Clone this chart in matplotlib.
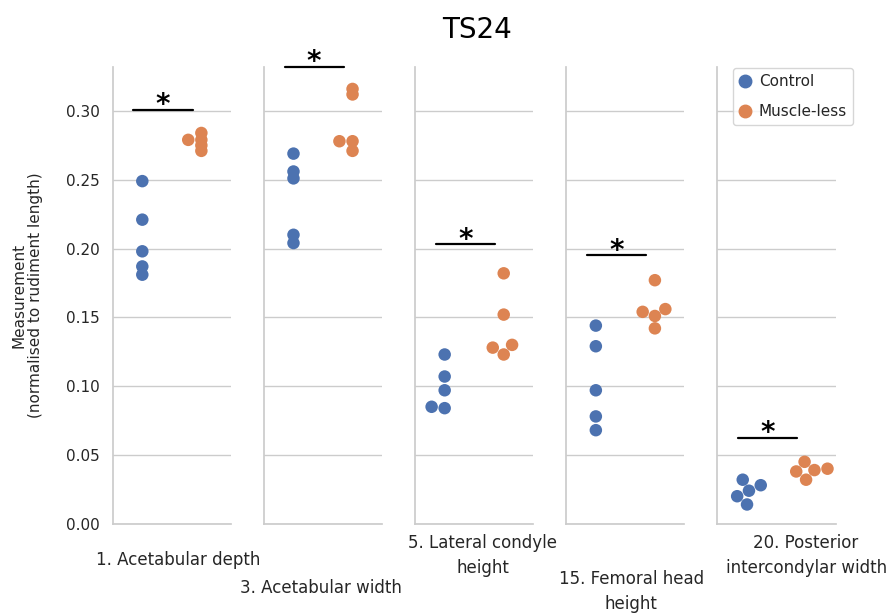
import matplotlib
matplotlib.use("Agg")
import matplotlib.pyplot as plt
from matplotlib.lines import Line2D
import numpy as np
import pandas as pd
import seaborn as sns

groups = ["Control", "Muscle-less"]
measures = [
    "1. Acetabular depth",
    "3. Acetabular width",
    "5. Lateral condyle\nheight",
    "15. Femoral head\nheight",
    "20. Posterior\nintercondylar width",
]
control = [
    [0.249, 0.221, 0.198, 0.187, 0.181],
    [0.269, 0.256, 0.251, 0.210, 0.204],
    [0.123, 0.107, 0.097, 0.085, 0.084],
    [0.144, 0.129, 0.097, 0.078, 0.068],
    [0.032, 0.028, 0.024, 0.020, 0.014],
]
muscleless = [
    [0.284, 0.279, 0.279, 0.275, 0.271],
    [0.316, 0.312, 0.278, 0.278, 0.271],
    [0.182, 0.152, 0.130, 0.128, 0.123],
    [0.177, 0.156, 0.154, 0.151, 0.142],
    [0.045, 0.040, 0.039, 0.038, 0.032],
]
sig_heights = [0.301, 0.332, 0.203, 0.195, 0.0625]

# layout tweaks, not data
swarm_stretch = [2.4, 2.4, 1.0, 1.1, 1.0]
label_pos = [(0.55, -0.079), (0.48, -0.140), (0.57, -0.070), (0.55, -0.149), (0.75, -0.070)]
YMAX = 0.332

sns.set_theme(style="whitegrid")
palette = sns.color_palette("deep")[:2]

fig, axes = plt.subplots(1, 5, figsize=(8.88, 6.14), dpi=100)
fig.subplots_adjust(left=0.127, right=0.941, bottom=0.147, top=0.891, wspace=0.28)

for i, ax in enumerate(axes):
    df = pd.DataFrame({
        "group": [groups[0]] * len(control[i]) + [groups[1]] * len(muscleless[i]),
        "value": control[i] + muscleless[i],
    })
    sns.swarmplot(data=df, x="group", y="value", hue="group", order=groups,
                  hue_order=groups, palette=palette, size=9, ax=ax, legend=False)
    ax.set_ylim(0, YMAX / swarm_stretch[i])

# compute the swarm once, then keep those positions
fig.canvas.draw()
for ax in axes:
    for coll in ax.collections:
        if "draw" in vars(coll):
            del coll.draw

for i, ax in enumerate(axes):
    ax.set_ylim(0, YMAX)
    ax.set_xlim(-0.5, 1.5)
    ax.set_yticks(np.arange(0, 0.31, 0.05))
    ax.tick_params(labelbottom=False)
    if i > 0:
        ax.tick_params(labelleft=False)
        ax.set_ylabel("")
    ax.set_xlabel("")
    ax.text(label_pos[i][0], label_pos[i][1], measures[i], transform=ax.transAxes,
            ha="center", va="center", fontsize=12, linespacing=1.5)
    ax.grid(axis="x", visible=False)
    sns.despine(ax=ax)

    h = sig_heights[i]
    ax.plot([-0.15, 0.85], [h, h], color="black", lw=1.6, clip_on=False)
    ax.annotate("*", (0.35, h), xytext=(0, 3.5), textcoords="offset points",
                ha="center", va="center", fontsize=20, fontweight="bold",
                color="black", annotation_clip=False)

axes[0].set_ylabel("Measurement\n(normalised to rudiment length)", fontsize=11, labelpad=16)
axes[0].tick_params(axis="y", labelsize=11)

handles = [Line2D([], [], marker="o", ls="", color=c, markersize=9) for c in palette]
axes[4].legend(handles, groups, loc="upper left", bbox_to_anchor=(0.13, 0.998),
               borderaxespad=0, fontsize=11, labelspacing=1.0, handlelength=0.8,
               handletextpad=0.5, frameon=True)

fig.suptitle("TS24", x=0.537, y=0.951, va="center", fontsize=20, color="black")

fig.savefig("out.png", dpi=100)
